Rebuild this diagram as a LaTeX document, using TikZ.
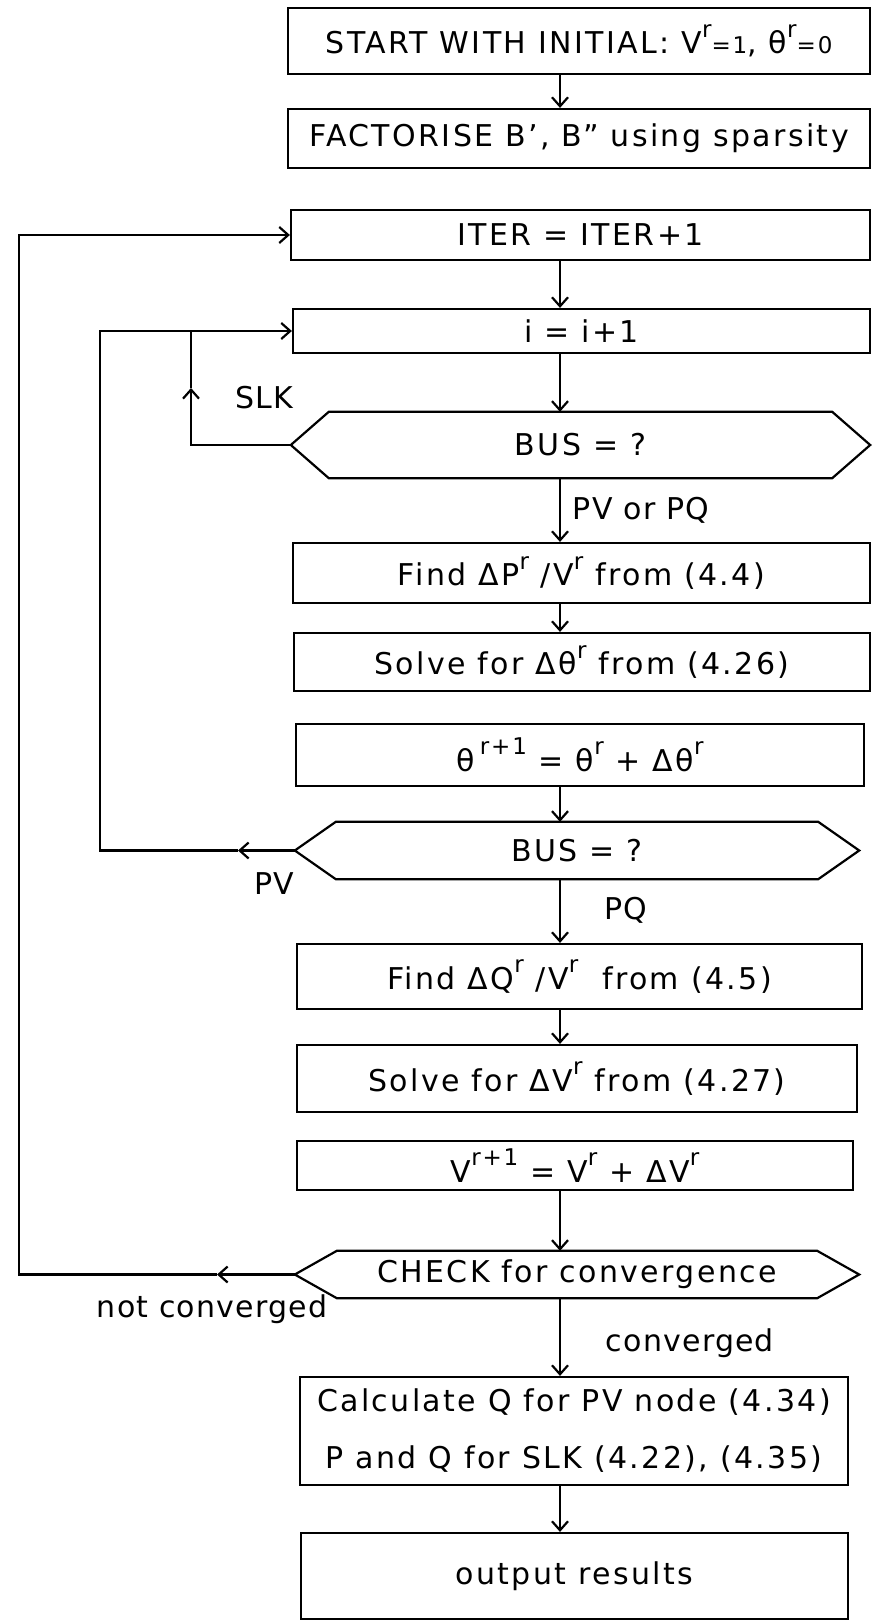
\documentclass[tikz,border=0pt]{standalone}
\usepackage{fontspec}
\setmainfont{DejaVu Sans}[LetterSpace=8]
\usetikzlibrary{arrows.meta}

\tikzset{
    every node/.style={font=\fontsize{30}{36}\selectfont},
    flow/.style={line width=2.2pt,>={Straight Barb[length=9pt,width=16pt]}},
    box/.style={draw,line width=2.2pt,inner sep=0pt},
    decision/.style={inner sep=0pt},
    lbl/.style={inner sep=0pt,font=\fontsize{30}{36}\selectfont\addfontfeature{LetterSpace=4}}
}
\newcommand{\sr}{\raisebox{.55em}{\fontsize{23}{23}\selectfont r}}
\newcommand{\srp}{\raisebox{.55em}{\fontsize{23}{23}\selectfont r+1}}

\begin{document}
\begin{tikzpicture}[x=1pt,y=-1pt]
    \useasboundingbox (0,0) rectangle (872,1621);

    % main column
    \node[box,minimum width=582,minimum height=66] (start) at (579,41)
        {START WITH INITIAL: V\sr{\fontsize{23}{23}\selectfont =1}, θ\sr{\fontsize{23}{23}\selectfont =0}};
    \node[box,minimum width=582,minimum height=59] (fact) at (579,138.5)
        {FACTORISE B', B" using sparsity};
    \node[box,minimum width=579,minimum height=50] (iter) at (580.5,235)
        {ITER = ITER+1};
    \node[box,minimum width=577,minimum height=44] (ibox) at (581.5,331)
        {i = i+1};
    \node[decision,minimum width=579,minimum height=66] (bus1) at (580.5,445)
        {BUS = ?};
    \node[box,minimum width=577,minimum height=60] (findp) at (581.5,573)
        {Find ΔP\sr\ /V\sr\ from (4.4)};
    \node[box,minimum width=576,minimum height=58] (solvet) at (582,662)
        {Solve for Δθ\sr\ from (4.26)};
    \node[box,minimum width=568,minimum height=62] (thupd) at (580,755)
        {θ\,\srp\ = θ\sr\ + Δθ\sr};
    \node[decision,minimum width=564,minimum height=57] (bus2) at (577,850.5)
        {BUS = ?};
    \node[box,minimum width=565,minimum height=65] (findq) at (579.5,976.5)
        {Find ΔQ\sr\ /V\sr\ \ from (4.5)};
    \node[box,minimum width=560,minimum height=67] (solvev) at (577,1078.5)
        {Solve for ΔV\sr\ from (4.27)};
    \node[box,minimum width=556,minimum height=49] (vupd) at (575,1165.5)
        {V\srp\ = V\sr\ + ΔV\sr};
    \node[decision,minimum width=564,minimum height=47] (check) at (577,1274.5)
        {CHECK for convergence};
    \node[box,minimum width=548,minimum height=108,align=center] (calc) at (574,1431)
        {Calculate Q for PV node (4.34)\\[21pt] P and Q for SLK (4.22), (4.35)};
    \node[box,minimum width=547,minimum height=86] (output) at (574.5,1576)
        {output results};

    % hexagons
    \foreach \n/\b in {bus1/38,bus2/41,check/42}
        \draw[line width=2.2pt] (\n.west) -- ([xshift=\b pt]\n.north west)
            -- ([xshift=-\b pt]\n.north east) -- (\n.east)
            -- ([xshift=-\b pt]\n.south east) -- ([xshift=\b pt]\n.south west) -- cycle;

    % branch labels
    \node[lbl] (slk) at (264,398) {SLK};
    \node[lbl] (pvpq) at (641,510) {PV or PQ};
    \node[lbl] (pv) at (274,884) {PV};
    \node[lbl] (pq) at (626,910) {PQ};
    \node[lbl] (notconv) at (212,1309) {not converged};
    \node[lbl] (conv) at (690,1343) {converged};

    \coordinate (axis) at (560,0);
    \coordinate (slkup) at (191,388);
    \coordinate (slktop) at (191,331);
    \coordinate (pvmid) at (238,850.5);
    \coordinate (pvtop) at (100,331);
    \coordinate (ncmid) at (217,1274.5);
    \coordinate (nctop) at (19,235);

    % straight flow
    \draw[flow,->] (start.south -| axis) -- (fact.north -| axis);
    \draw[flow,->] (iter.south -| axis) -- (ibox.north -| axis);
    \draw[flow,->] (ibox.south -| axis) -- (bus1.north -| axis);
    \draw[flow,->] (bus1.south -| axis) -- (findp.north -| axis);
    \draw[flow,->] (findp.south -| axis) -- (solvet.north -| axis);
    \draw[flow,->] (thupd.south -| axis) -- (bus2.north -| axis);
    \draw[flow,->] (bus2.south -| axis) -- (findq.north -| axis);
    \draw[flow,->] (findq.south -| axis) -- (solvev.north -| axis);
    \draw[flow,->] (vupd.south -| axis) -- (check.north -| axis);
    \draw[flow,->] (check.south -| axis) -- (calc.north -| axis);
    \draw[flow,->] (calc.south -| axis) -- (output.north -| axis);

    % loops
    \draw[flow,->] (bus1.west) -| (slkup);
    \draw[flow] (slkup) -- (slktop);
    \draw[flow,->] (bus2.west) -- (pvmid);
    \draw[flow,->] (pvmid) -| (pvtop) -- (ibox.west);
    \draw[flow,->] (check.west) -- (ncmid);
    \draw[flow,->] (ncmid) -| (nctop) -- (iter.west);
\end{tikzpicture}
\end{document}
